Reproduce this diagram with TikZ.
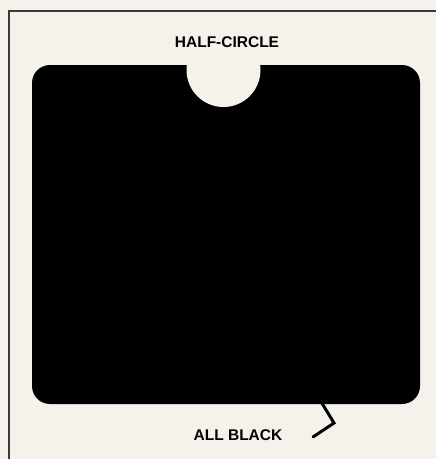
\documentclass[tikz,border=0pt]{standalone}
\usepackage{fontspec}
\setmainfont{Liberation Sans}
\definecolor{paper}{HTML}{F4F2EA}
\definecolor{framegray}{HTML}{3A3A3A}
\tikzset{
  lbl/.style={font=\bfseries\fontsize{15.5}{16}\selectfont, text=black, inner sep=0pt},
  pointer/.style={line width=3pt, line join=miter, line cap=round, black}
}
\begin{document}
\begin{tikzpicture}[x=1pt,y=-1pt]
\fill[paper] (0,0) rectangle (436,459);
\useasboundingbox (0,0) rectangle (436,459);
% frame
\draw[line width=1.6pt, framegray] (436,11) -- (9,11) -- (9,459);
% black card
\fill[black, rounded corners=18pt] (32,65) rectangle (420,404);
% half-circle cut-out
\begin{scope}
  \clip (0,65) rectangle (436,459);
  \fill[paper] (223.5,70) circle (37pt);
\end{scope}
% labels
\node[lbl] (hc) at (227,42) {HALF-CIRCLE};
\node[lbl] (ab) at (238,435) {ALL BLACK};
% pointer
\coordinate (p1) at (313,437);
\coordinate (p2) at (334,423);
\coordinate (p3) at (320,400);
\draw[pointer] (p1) -- (p2) -- (p3);
\end{tikzpicture}
\end{document}
